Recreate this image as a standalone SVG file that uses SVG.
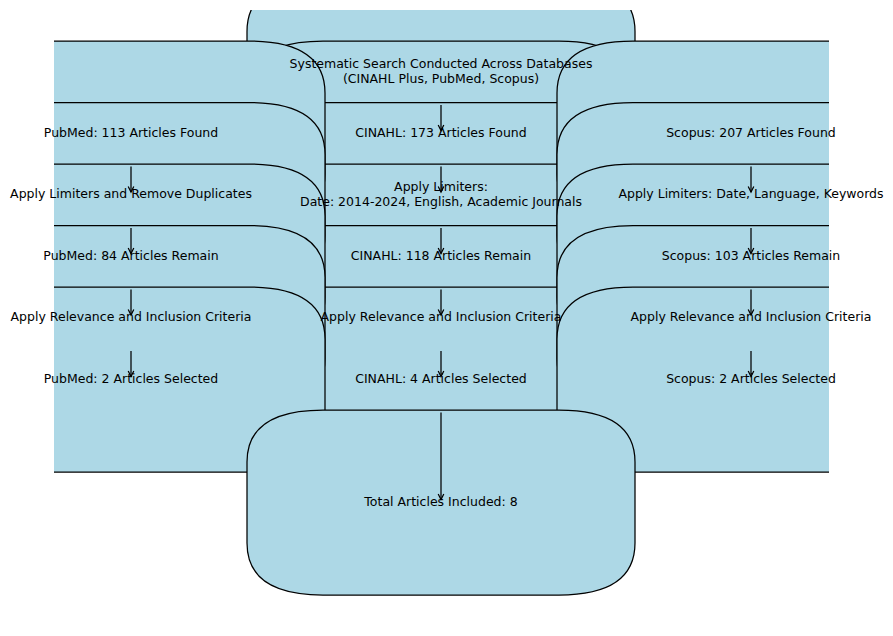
<svg xmlns="http://www.w3.org/2000/svg" width="893" height="636" viewBox="0 0 893 636">
  <style>
    .box { fill: #ADD8E6; stroke: #000000; stroke-width: 1.25; }
    .lbl { font-family: "DejaVu Sans", Verdana, sans-serif; font-size: 12.5px; fill: #000000; text-anchor: middle; }
    .arr { stroke: #000000; stroke-width: 1.25; fill: none; marker-end: url(#head); }
  </style>
  <defs>
    <clipPath id="axes">
      <rect x="54" y="10" width="775" height="616"/>
    </clipPath>
    <marker id="head" markerUnits="userSpaceOnUse" markerWidth="12" markerHeight="12" refX="0" refY="0" viewBox="-6 -6 12 12" orient="auto" overflow="visible">
      <path d="M -5.5,-2.8 L 0,0 L -5.5,2.8" fill="none" stroke="#000000" stroke-width="1.25"/>
    </marker>
  </defs>
  <rect x="0" y="0" width="893" height="636" fill="#ffffff"/>

  <g id="nodes" clip-path="url(#axes)">
    <g id="node-start"><path class="box" d="M 323,-20.5 L 559,-20.5 Q 635,-20.5 635,31.5 L 635,112.5 Q 635,164.5 559,164.5 L 323,164.5 Q 247,164.5 247,112.5 L 247,31.5 Q 247,-20.5 323,-20.5 Z"/></g>

    <g id="node-cinahl-found"><path class="box" d="M 323,41 L 559,41 Q 635,41 635,93 L 635,174 Q 635,226 559,226 L 323,226 Q 247,226 247,174 L 247,93 Q 247,41 323,41 Z"/></g>
    <g id="node-cinahl-limiters"><path class="box" d="M 323,102.5 L 559,102.5 Q 635,102.5 635,154.5 L 635,235.5 Q 635,287.5 559,287.5 L 323,287.5 Q 247,287.5 247,235.5 L 247,154.5 Q 247,102.5 323,102.5 Z"/></g>
    <g id="node-cinahl-remain"><path class="box" d="M 323,164 L 559,164 Q 635,164 635,216 L 635,297 Q 635,349 559,349 L 323,349 Q 247,349 247,297 L 247,216 Q 247,164 323,164 Z"/></g>
    <g id="node-cinahl-relevance"><path class="box" d="M 323,225.5 L 559,225.5 Q 635,225.5 635,277.5 L 635,358.5 Q 635,410.5 559,410.5 L 323,410.5 Q 247,410.5 247,358.5 L 247,277.5 Q 247,225.5 323,225.5 Z"/></g>
    <g id="node-cinahl-selected"><path class="box" d="M 323,287 L 559,287 Q 635,287 635,339 L 635,420 Q 635,472 559,472 L 323,472 Q 247,472 247,420 L 247,339 Q 247,287 323,287 Z"/></g>

    <g id="node-pubmed-found"><path class="box" d="M 13,41 L 249,41 Q 325,41 325,93 L 325,174 Q 325,226 249,226 L 13,226 Q -63,226 -63,174 L -63,93 Q -63,41 13,41 Z"/></g>
    <g id="node-pubmed-limiters"><path class="box" d="M 13,102.5 L 249,102.5 Q 325,102.5 325,154.5 L 325,235.5 Q 325,287.5 249,287.5 L 13,287.5 Q -63,287.5 -63,235.5 L -63,154.5 Q -63,102.5 13,102.5 Z"/></g>
    <g id="node-pubmed-remain"><path class="box" d="M 13,164 L 249,164 Q 325,164 325,216 L 325,297 Q 325,349 249,349 L 13,349 Q -63,349 -63,297 L -63,216 Q -63,164 13,164 Z"/></g>
    <g id="node-pubmed-relevance"><path class="box" d="M 13,225.5 L 249,225.5 Q 325,225.5 325,277.5 L 325,358.5 Q 325,410.5 249,410.5 L 13,410.5 Q -63,410.5 -63,358.5 L -63,277.5 Q -63,225.5 13,225.5 Z"/></g>
    <g id="node-pubmed-selected"><path class="box" d="M 13,287 L 249,287 Q 325,287 325,339 L 325,420 Q 325,472 249,472 L 13,472 Q -63,472 -63,420 L -63,339 Q -63,287 13,287 Z"/></g>

    <g id="node-scopus-found"><path class="box" d="M 633,41 L 869,41 Q 945,41 945,93 L 945,174 Q 945,226 869,226 L 633,226 Q 557,226 557,174 L 557,93 Q 557,41 633,41 Z"/></g>
    <g id="node-scopus-limiters"><path class="box" d="M 633,102.5 L 869,102.5 Q 945,102.5 945,154.5 L 945,235.5 Q 945,287.5 869,287.5 L 633,287.5 Q 557,287.5 557,235.5 L 557,154.5 Q 557,102.5 633,102.5 Z"/></g>
    <g id="node-scopus-remain"><path class="box" d="M 633,164 L 869,164 Q 945,164 945,216 L 945,297 Q 945,349 869,349 L 633,349 Q 557,349 557,297 L 557,216 Q 557,164 633,164 Z"/></g>
    <g id="node-scopus-relevance"><path class="box" d="M 633,225.5 L 869,225.5 Q 945,225.5 945,277.5 L 945,358.5 Q 945,410.5 869,410.5 L 633,410.5 Q 557,410.5 557,358.5 L 557,277.5 Q 557,225.5 633,225.5 Z"/></g>
    <g id="node-scopus-selected"><path class="box" d="M 633,287 L 869,287 Q 945,287 945,339 L 945,420 Q 945,472 869,472 L 633,472 Q 557,472 557,420 L 557,339 Q 557,287 633,287 Z"/></g>

    <g id="node-total"><path class="box" d="M 323,410 L 559,410 Q 635,410 635,462 L 635,543 Q 635,595 559,595 L 323,595 Q 247,595 247,543 L 247,462 Q 247,410 323,410 Z"/></g>
  </g>

  <g id="connectors">
    <line class="arr" x1="441" y1="105" x2="441" y2="130.5"/>
    <line class="arr" x1="441" y1="166.5" x2="441" y2="192"/>
    <line class="arr" x1="441" y1="228" x2="441" y2="253.5"/>
    <line class="arr" x1="441" y1="289.5" x2="441" y2="315"/>
    <line class="arr" x1="441" y1="351" x2="441" y2="376.5"/>
    <line class="arr" x1="441" y1="412.5" x2="441" y2="499.5"/>
    <line class="arr" x1="131" y1="166.5" x2="131" y2="192"/>
    <line class="arr" x1="131" y1="228" x2="131" y2="253.5"/>
    <line class="arr" x1="131" y1="289.5" x2="131" y2="315"/>
    <line class="arr" x1="131" y1="351" x2="131" y2="376.5"/>
    <line class="arr" x1="751" y1="166.5" x2="751" y2="192"/>
    <line class="arr" x1="751" y1="228" x2="751" y2="253.5"/>
    <line class="arr" x1="751" y1="289.5" x2="751" y2="315"/>
    <line class="arr" x1="751" y1="351" x2="751" y2="376.5"/>
  </g>

  <g id="labels">
    <text class="lbl" id="label-start" x="441" y="67.5">Systematic Search Conducted Across Databases<tspan x="441" y="82.5">(CINAHL Plus, PubMed, Scopus)</tspan></text>
    <text class="lbl" id="label-pubmed-found" x="131" y="136.5">PubMed: 113 Articles Found</text>
    <text class="lbl" id="label-cinahl-found" x="441" y="136.5">CINAHL: 173 Articles Found</text>
    <text class="lbl" id="label-scopus-found" x="751" y="136.5">Scopus: 207 Articles Found</text>
    <text class="lbl" id="label-pubmed-limiters" x="131" y="198">Apply Limiters and Remove Duplicates</text>
    <text class="lbl" id="label-cinahl-limiters" x="441" y="190.5">Apply Limiters:<tspan x="441" y="205.5">Date: 2014-2024, English, Academic Journals</tspan></text>
    <text class="lbl" id="label-scopus-limiters" x="751" y="198">Apply Limiters: Date, Language, Keywords</text>
    <text class="lbl" id="label-pubmed-remain" x="131" y="259.5">PubMed: 84 Articles Remain</text>
    <text class="lbl" id="label-cinahl-remain" x="441" y="259.5">CINAHL: 118 Articles Remain</text>
    <text class="lbl" id="label-scopus-remain" x="751" y="259.5">Scopus: 103 Articles Remain</text>
    <text class="lbl" id="label-pubmed-relevance" x="131" y="321">Apply Relevance and Inclusion Criteria</text>
    <text class="lbl" id="label-cinahl-relevance" x="441" y="321">Apply Relevance and Inclusion Criteria</text>
    <text class="lbl" id="label-scopus-relevance" x="751" y="321">Apply Relevance and Inclusion Criteria</text>
    <text class="lbl" id="label-pubmed-selected" x="131" y="382.5">PubMed: 2 Articles Selected</text>
    <text class="lbl" id="label-cinahl-selected" x="441" y="382.5">CINAHL: 4 Articles Selected</text>
    <text class="lbl" id="label-scopus-selected" x="751" y="382.5">Scopus: 2 Articles Selected</text>
    <text class="lbl" id="label-total" x="441" y="505.5">Total Articles Included: 8</text>
  </g>
</svg>
